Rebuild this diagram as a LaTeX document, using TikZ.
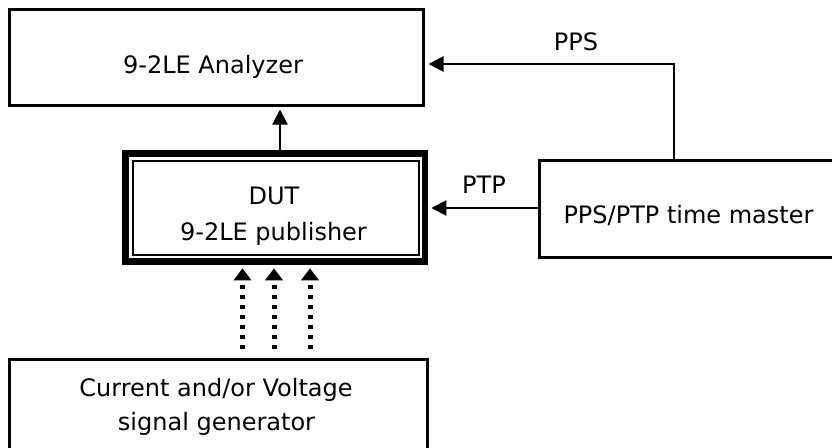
\documentclass[tikz,border=0pt]{standalone}
\usepackage{fontspec}
\setmainfont{DejaVu Sans}
\usetikzlibrary{arrows.meta}
\tikzset{
  box/.style={draw, rectangle, line width=3pt, inner sep=0pt},
  txt/.style={anchor=base, inner sep=0pt, font=\fontsize{24}{28}\selectfont},
  conn/.style={line width=2pt, -{Triangle[length=15pt,width=15pt]}},
  dotconn/.style={line width=5pt, dash pattern=on 4.5pt off 5.5pt, -{Triangle[length=12pt,width=17pt]}}
}
\begin{document}
\begin{tikzpicture}[x=1pt,y=-1pt]
\useasboundingbox (0,0) rectangle (832,447);
\clip (0,0) rectangle (832,447);
% boxes
\node[box, minimum width=414pt, minimum height=96pt] (ana) at (216,57) {};
\node[box, line width=6.5pt, minimum width=299.5pt, minimum height=108pt] (dut) at (275.25,207.5) {};
\node[box, line width=2pt, minimum width=285.5pt, minimum height=94pt] (dutin) at (275.75,208) {};
\node[box, minimum width=306pt, minimum height=97pt] (tm) at (692,208.5) {};
\node[box, minimum width=417.5pt, minimum height=110.5pt] (gen) at (218.25,414.75) {};
% texts
\node[txt] (anat) at (213,73) {9-2LE Analyzer};
\node[txt] (dutt1) at (274,204) {DUT};
\node[txt] (dutt2) at (273.5,240.5) {9-2LE publisher};
\node[txt] (tmt) at (688.5,223) {PPS/PTP time master};
\node[txt] (gent1) at (216,396.5) {Current and/or Voltage};
\node[txt] (gent2) at (216.5,430) {signal generator};
\node[txt] (ppsl) at (576,50) {PPS};
\node[txt] (ptpl) at (484,193) {PTP};
% coordinates for connectors
\coordinate (ax) at (280,0);
\coordinate (ppsc) at (674,64);
\coordinate (ptpy) at (0,208);
\coordinate (d1) at (242.5,0);
\coordinate (d2) at (274,0);
\coordinate (d3) at (310,0);
% connectors
\draw[conn, shorten >=3pt] (ax |- dut.north) -- (ax |- ana.south);
\draw[conn, shorten >=4pt] (tm.north -| ppsc) -- (ppsc) -- (ana.east |- ppsc);
\draw[conn, shorten >=3pt] (tm.west |- ptpy) -- (dut.east |- ptpy);
\draw[dotconn, shorten <=9pt, shorten >=3.5pt] (d1 |- gen.north) -- (d1 |- dut.south);
\draw[dotconn, shorten <=9pt, shorten >=3.5pt] (d2 |- gen.north) -- (d2 |- dut.south);
\draw[dotconn, shorten <=9pt, shorten >=3.5pt] (d3 |- gen.north) -- (d3 |- dut.south);
\end{tikzpicture}
\end{document}
